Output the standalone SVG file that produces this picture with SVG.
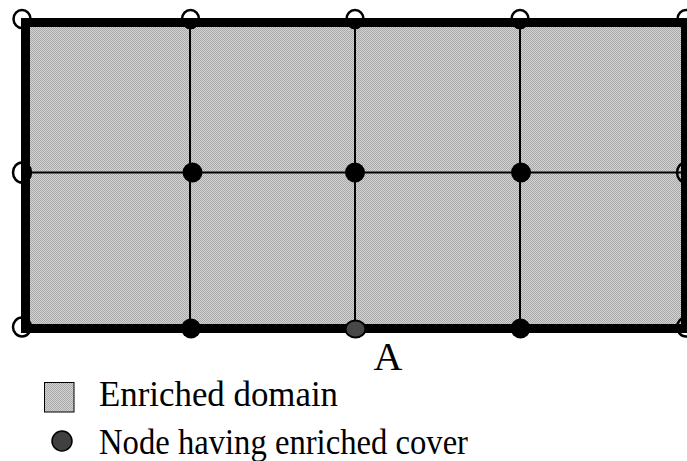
<svg xmlns="http://www.w3.org/2000/svg" width="687" height="461" viewBox="0 0 687 461">
<defs>
<pattern id="chk" width="2" height="2" patternUnits="userSpaceOnUse">
<rect width="2" height="2" fill="#d4d4d4"/>
<rect width="1" height="1" fill="#a8a8a8"/>
<rect x="1" y="1" width="1" height="1" fill="#a8a8a8"/>
</pattern>
</defs>
<style>
.grid{stroke:#000;stroke-width:2;fill:none}
.hollow{fill:none;stroke:#000;stroke-width:2.5}
.solid{fill:#000}
.gray{fill:#474747;stroke:#000;stroke-width:2}
.txt{font-family:"Liberation Serif","Times New Roman",serif;fill:#000}
</style>
<rect width="687" height="461" fill="#fff"/>
<g id="domain">
<rect x="25.5" y="22.5" width="660" height="306" fill="url(#chk)"/>
</g>
<g id="connectors">
<line class="grid" x1="190" y1="22" x2="190" y2="329"/>
<line class="grid" x1="355" y1="22" x2="355" y2="329"/>
<line class="grid" x1="520" y1="22" x2="520" y2="329"/>
<line class="grid" x1="25" y1="172.5" x2="686" y2="172.5"/>
<rect x="25.5" y="22.5" width="660" height="306" fill="none" stroke="#000" stroke-width="9"/>
</g>
<g id="hollow-nodes">
<ellipse class="hollow" cx="22" cy="19" rx="8.5" ry="9"/>
<ellipse class="hollow" cx="190.5" cy="19" rx="8.5" ry="9"/>
<ellipse class="hollow" cx="355" cy="19" rx="8.5" ry="9"/>
<ellipse class="hollow" cx="520" cy="19" rx="8.5" ry="9"/>
<ellipse class="hollow" cx="686" cy="19" rx="8.5" ry="9"/>
<ellipse class="hollow" cx="22" cy="172.5" rx="9" ry="10"/>
<ellipse class="hollow" cx="686" cy="172.5" rx="9" ry="10"/>
<ellipse class="hollow" cx="22" cy="327" rx="9" ry="9.5"/>
<ellipse class="hollow" cx="686" cy="327" rx="9" ry="9.5"/>
</g>
<g id="enriched-nodes">
<ellipse class="solid" cx="192.5" cy="172.5" rx="10" ry="10"/>
<ellipse class="solid" cx="355" cy="172.5" rx="10" ry="10"/>
<ellipse class="solid" cx="521" cy="172.5" rx="10" ry="10"/>
<ellipse class="solid" cx="191" cy="328.5" rx="10" ry="10"/>
<ellipse class="solid" cx="520.5" cy="328.5" rx="10" ry="10"/>
</g>
<g id="node-A">
<ellipse class="gray" cx="355.5" cy="329" rx="10" ry="8.5"/>
<text class="txt" x="388" y="370" font-size="40" text-anchor="middle">A</text>
</g>
<g id="legend-domain">
<rect x="44.5" y="382.5" width="29.5" height="29.5" fill="url(#chk)" stroke="#000" stroke-width="1"/>
<text class="txt" x="99" y="406" font-size="35" textLength="239" lengthAdjust="spacingAndGlyphs">Enriched domain</text>
</g>
<g id="legend-node">
<circle cx="62" cy="441" r="10" fill="#404040" stroke="#000" stroke-width="1.5"/>
<text class="txt" x="99" y="454" font-size="35" textLength="369" lengthAdjust="spacingAndGlyphs">Node having enriched cover</text>
</g>
</svg>
